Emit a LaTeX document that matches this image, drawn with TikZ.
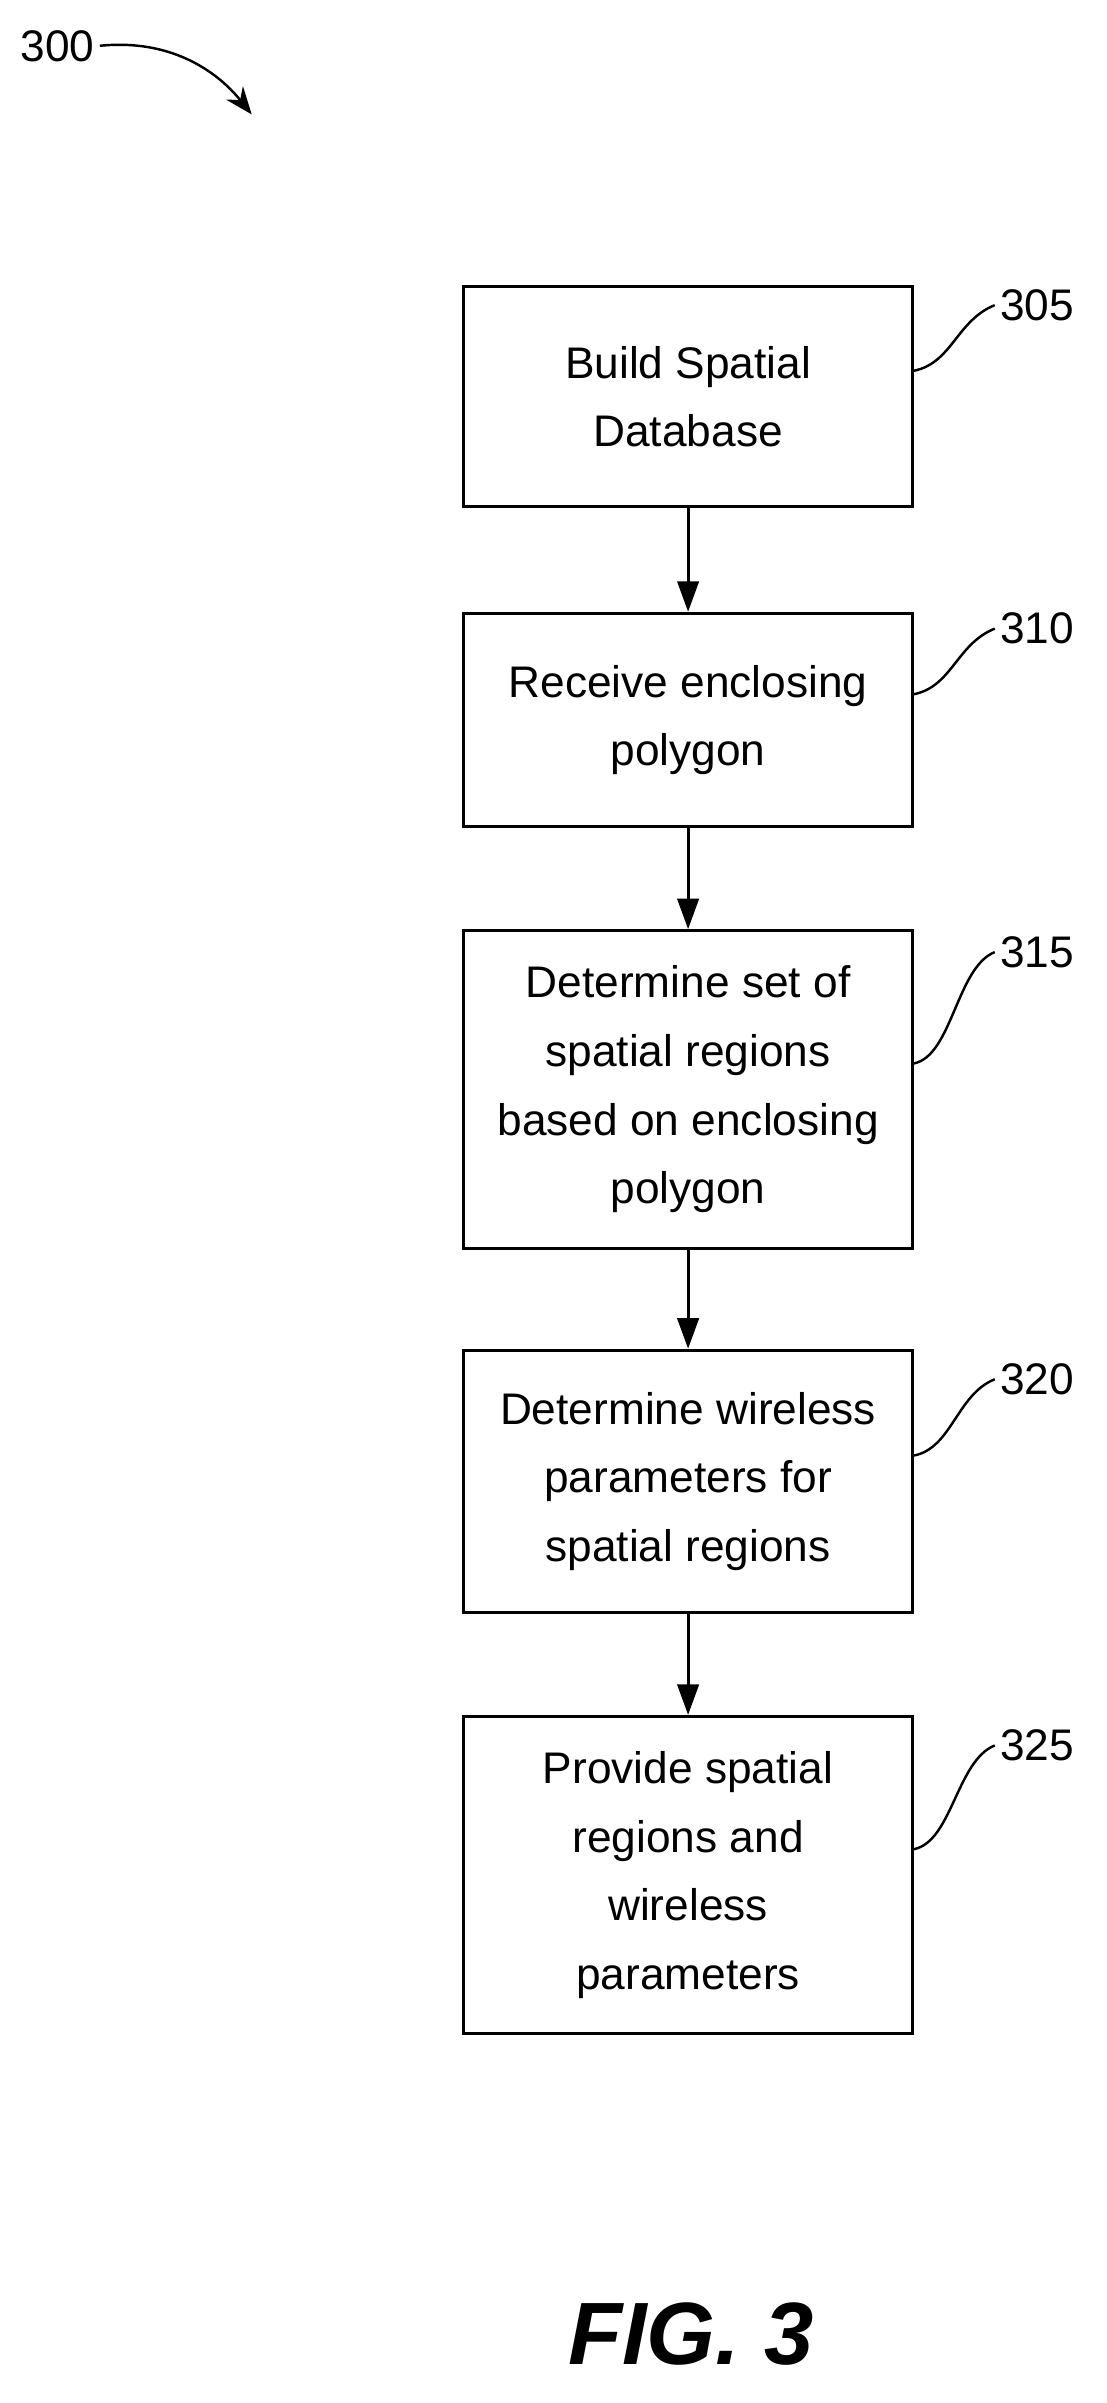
\documentclass[tikz,border=0pt]{standalone}
\usepackage{fontspec}
\setmainfont{Liberation Sans}
\usetikzlibrary{arrows.meta}
\begin{document}
\begin{tikzpicture}[x=1pt,y=-1pt,
  box/.style={draw,line width=2pt,minimum width=294pt,align=center,
    font=\fontsize{29}{45}\selectfont,inner sep=0pt},
  lab/.style={font=\fontsize{29}{34}\selectfont},
  arr/.style={-{Triangle[length=20pt,width=14pt]},line width=2pt},
  ln/.style={line width=1.6pt}]
\useasboundingbox (0,0) rectangle (725,1575);
\node[box,minimum height=144pt] (b1) at (451,260) {Build Spatial\\Database};
\node[box,minimum height=140pt] (b2) at (451,472) {Receive enclosing\\polygon};
\node[box,minimum height=208pt] (b3) at (451,714) {Determine set of\\spatial regions\\based on enclosing\\polygon};
\node[box,minimum height=172pt] (b4) at (451,971) {Determine wireless\\parameters for\\spatial regions};
\node[box,minimum height=208pt] (b5) at (451,1229) {Provide spatial\\regions and\\wireless\\parameters};
\draw[arr] (b1) -- (b2);
\draw[arr] (b2) -- (b3);
\draw[arr] (b3) -- (b4);
\draw[arr] (b4) -- (b5);
\foreach \b/\t/\y in {b1/305/200,b2/310/412,b3/315/624,b4/320/904,b5/325/1144}{
  \node[lab,anchor=west] (l\t) at (652,\y) {\t};
  \draw[ln] (\b.east) ++(0,-17) .. controls +(25,-5) and +(-25,10) .. (l\t.west);
}
\node[lab,anchor=west] (l300) at (10,30) {300};
\coordinate (a300) at (165,75);
\draw[-{Stealth[length=18pt,width=14pt]},ln] (l300.east) .. controls +(50,-5) and +(-20,-25) .. (a300);
\node[font=\bfseries\itshape\fontsize{58}{60}\selectfont] (fig) at (453,1530) {FIG. 3};
\end{tikzpicture}
\end{document}
